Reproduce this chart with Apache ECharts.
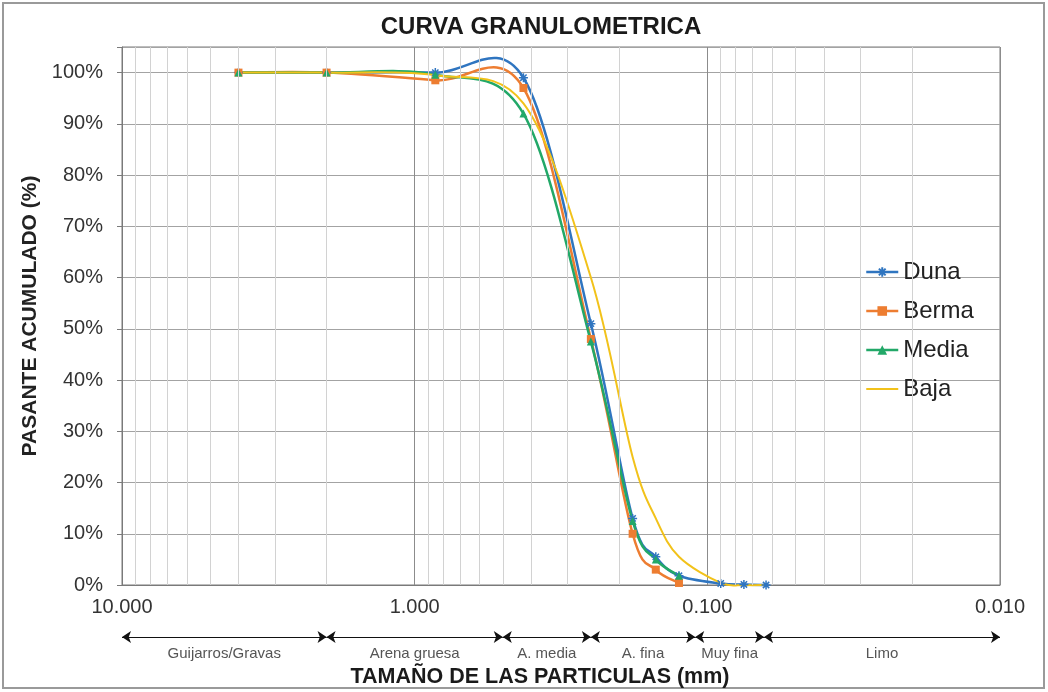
<!DOCTYPE html>
<html>
<head>
<meta charset="utf-8">
<script src="https://cdn.jsdelivr.net/npm/echarts@6/dist/echarts.min.js"></script>
<style>
  html, body { margin: 0; padding: 0; background: #fff; }
  #chart { width: 1048px; height: 692px; }
</style>
</head>
<body>
<div id="chart"></div>
<script>
// ---- data ----
const sizes = [4.0, 2.0, 0.85, 0.425, 0.25, 0.18, 0.15, 0.125, 0.09, 0.075, 0.063];
const duna  = [100, 100, 100, 99, 51, 13, 5.5, 1.8, 0.3, 0.1, 0];
const berma = [100, 100, 98.5, 97, 48, 10, 3, 0.4, null, null, null];
const media = [100, 100, 99.6, 92, 47.5, 12.5, 5, 1.8, null, null, null];
const baja  = [100, 100, 99.5, 94, 60, 25, 13, 5.5, 0.4, 0, 0];
const seriesNames = ['Duna', 'Berma', 'Media', 'Baja'];
const seriesColors = ['#2f75c0', '#ed7d31', '#22a868', '#f2c21a'];
const xTickLabels = ['10.000', '1.000', '0.100', '0.010'];
const classBounds = [10, 2.0, 0.5, 0.25, 0.11, 0.064, 0.01];
const classNames = ['Guijarros/Gravas', 'Arena gruesa', 'A. media', 'A. fina', 'Muy fina', 'Limo'];

// ---- helpers ----
function pairs(arr) {
  const out = [];
  sizes.forEach((s, i) => { if (arr[i] !== null) out.push([s, arr[i]]); });
  return out;
}
const minorLines = [];
[1, 0.1, 0.01].forEach(d => { for (let k = 2; k <= 9; k++) minorLines.push({ xAxis: +(k * d).toPrecision(3) }); });

const classSegs = classNames.map((n, i) => [
  { coord: [classBounds[i], 0.5], name: n },
  { coord: [classBounds[i + 1], 0.5] }
]);

const FONT = '"Liberation Sans", Arial, sans-serif';
const asterisk = 'path://M0,5L10,5M5,0L5,10M1.5,1.5L8.5,8.5M8.5,1.5L1.5,8.5';

// smoothed curve (Catmull-Rom style, as spreadsheet "smoothed line") through points mapped by the axes
function curveSeries(name, arr, color, width) {
  const pts = pairs(arr);
  return {
    name: name + '_curve', type: 'custom', xAxisIndex: 0, yAxisIndex: 0, data: pts, silent: true,
    encode: { x: 0, y: 1 }, clip: false,
    renderItem: (params, api) => {
      if (params.dataIndex !== 0) return null;
      const P = pts.map(p => api.coord(p));
      let d = 'M' + P[0][0] + ',' + P[0][1];
      for (let i = 0; i < P.length - 1; i++) {
        const p0 = P[i - 1] || P[i], p1 = P[i], p2 = P[i + 1], p3 = P[i + 2] || P[i + 1];
        const c1x = p1[0] + (p2[0] - p0[0]) / 6, c1y = p1[1] + (p2[1] - p0[1]) / 6;
        const c2x = p2[0] - (p3[0] - p1[0]) / 6, c2y = p2[1] - (p3[1] - p1[1]) / 6;
        d += 'C' + c1x + ',' + c1y + ' ' + c2x + ',' + c2y + ' ' + p2[0] + ',' + p2[1];
      }
      return { type: 'path', shape: { pathData: d }, style: { fill: 'none', stroke: color, lineWidth: width } };
    }
  };
}
function markerSeries(name, arr, color, symbol, size) {
  return {
    name: name, type: 'line', data: pairs(arr), symbol: symbol, symbolSize: size, showSymbol: symbol !== 'none',
    itemStyle: symbol === asterisk ? { color: color, borderColor: color, borderWidth: 1.5 } : { color: color },
    lineStyle: { color: color, width: 2.5, opacity: 0 }, clip: false, silent: true
  };
}

const chart = echarts.init(document.getElementById('chart'));
chart.setOption({
  animation: false,
  textStyle: { fontFamily: FONT },
  grid: [
    { left: 122, right: 48, top: 47, bottom: 107, show: true, borderColor: '#7a7a7a', borderWidth: 1 },
    { left: 122, right: 48, top: 622, height: 30 }
  ],
  xAxis: [
    {
      type: 'log', logBase: 10, min: 0.01, max: 10, inverse: true, gridIndex: 0,
      axisLine: { show: true, lineStyle: { color: '#7a7a7a' } },
      axisTick: { show: false },
      axisLabel: {
        fontSize: 20, color: '#333', margin: 12, showMinLabel: true, showMaxLabel: true,
        formatter: v => {
          const e = Math.round(Math.log10(v));
          return xTickLabels[1 - e] !== undefined ? xTickLabels[1 - e] : '';
        }
      },
      splitLine: { show: true, lineStyle: { color: '#8c8c8c', width: 1 } }
    },
    { type: 'log', logBase: 10, min: 0.01, max: 10, inverse: true, gridIndex: 1, show: false }
  ],
  yAxis: [
    {
      type: 'value', min: 0, max: 105, interval: 10, gridIndex: 0,
      name: 'PASANTE ACUMULADO (%)', nameLocation: 'middle', nameGap: 81,
      nameTextStyle: { fontSize: 21, fontWeight: 'bold', color: '#222', fontFamily: FONT },
      axisLine: { show: true, lineStyle: { color: '#7a7a7a' } },
      axisTick: { show: true, length: 5, lineStyle: { color: '#7a7a7a' } },
      axisLabel: { fontSize: 20, color: '#333', margin: 19, formatter: v => v <= 100 ? v + '%' : '' },
      splitLine: { show: true, lineStyle: { color: '#a3a3a3', width: 1 } }
    },
    { type: 'value', min: 0, max: 1, gridIndex: 1, show: false }
  ],
  legend: {
    data: seriesNames.map((n, i) => ({
      name: n,
      lineStyle: { opacity: 1, color: seriesColors[i], width: i === 3 ? 2 : 2.5 },
      itemStyle: i === 3 ? { opacity: 0 } : undefined
    })),
    orient: 'vertical', left: 860, top: 255,
    itemWidth: 32, itemHeight: 12, itemGap: 15,
    textStyle: { fontSize: 24, color: '#222', lineHeight: 24, fontFamily: FONT }
  },
  graphic: [
    { type: 'rect', shape: { x: 3, y: 3, width: 1041, height: 685 }, style: { fill: 'none', stroke: '#9a9a9a', lineWidth: 2 }, silent: true },
    { type: 'text', x: 541, y: 27, style: { text: 'CURVA GRANULOMETRICA', fontSize: 24, fontWeight: 'bold', fill: '#1a1a1a', fontFamily: FONT, align: 'center', verticalAlign: 'middle', textAlign: 'center', textVerticalAlign: 'middle' } },
    { type: 'text', x: 540, y: 677, style: { text: 'TAMAÑO DE LAS PARTICULAS (mm)', fontSize: 21.5, fontWeight: 'bold', fill: '#1a1a1a', fontFamily: FONT, align: 'center', verticalAlign: 'middle', textAlign: 'center', textVerticalAlign: 'middle' } }
  ],
  series: [
    {
      name: '_minor', type: 'line', data: [], xAxisIndex: 0, yAxisIndex: 0, z: 1, silent: true,
      markLine: { silent: true, symbol: 'none', label: { show: false }, lineStyle: { color: '#d2d2d2', type: 'solid', width: 1 }, data: minorLines }
    },
    {
      name: '_class', type: 'line', data: [], xAxisIndex: 1, yAxisIndex: 1, silent: true,
      markLine: {
        silent: true, symbol: ['arrow', 'arrow'], symbolSize: 9,
        lineStyle: { color: '#111', type: 'solid', width: 1.2 },
        label: { show: true, formatter: '{b}', position: 'insideMiddleBottom', distance: 9, fontSize: 15, color: '#555', fontFamily: FONT },
        data: classSegs
      }
    },
    curveSeries('Duna', duna, seriesColors[0], 2.5),
    markerSeries('Duna', duna, seriesColors[0], asterisk, 9),
    curveSeries('Berma', berma, seriesColors[1], 2.5),
    markerSeries('Berma', berma, seriesColors[1], 'rect', 8),
    curveSeries('Media', media, seriesColors[2], 2.5),
    markerSeries('Media', media, seriesColors[2], 'triangle', 8),
    markerSeries('Baja', baja, seriesColors[3], 'none', 0),
    curveSeries('Baja', baja, seriesColors[3], 2)
  ]
});
</script>
</body>
</html>
